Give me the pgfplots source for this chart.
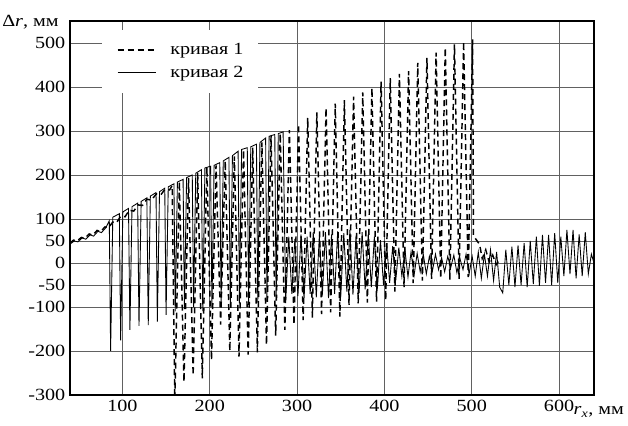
\documentclass[border=0pt]{standalone}
\usepackage{fontspec}
\setmainfont{Liberation Serif}[FakeStretch=1.18]
\usepackage{pgfplots}
\pgfplotsset{compat=1.18}

\begin{document}
\begin{tikzpicture}
\begin{axis}[
  scale only axis, width=393pt, height=280.5pt,
  xmin=40, xmax=640, ymin=-300, ymax=550,
  xtick={100,200,300,400,500,600},
  xticklabels={100,200,300,400,500,600},
  ytick={-300,-200,-100,-50,0,50,100,200,300,400,500},
  yticklabels={-300,-200,-100,-50,0,50,100,200,300,400,500},
  ticklabel style={font=\fontsize{12.8}{14}\selectfont},
  major tick length=0pt,
  grid=major, grid style={black!62, line width=0.65pt},
  axis line style={line width=1pt},
  legend style={at={(axis description cs:0.061,0.976)}, anchor=north west,
                draw=none, fill=white, font=\fontsize{12.8}{14}\selectfont,
                inner xsep=11pt, inner ysep=9pt, row sep=5pt,
                nodes={inner ysep=1pt, inner xsep=0pt},
                /tikz/every odd column/.append style={column sep=10pt}},
  legend cell align=left,
  legend image code/.code={\draw[#1] (0pt,0pt) -- (29pt,0pt);},
]
% curve 1 (dashed)
\addplot[black, line width=1.1pt, dash pattern=on 4.5pt off 3pt] coordinates {
(40,45)(44,52)(48,50)(53,58)(57,56)(62,66)(66,63)(71,74)(75,71)(80,82)(84,80)
(89,93)(93,91)(98,106)(103,105)(108,120)(113,118)(118,132)(123,131)(128,145)
(133,143)(139,157)(144,155)(149,168)(154,166)(157,176)
(160,-320)(165.2,185)(170.5,-270)(175.7,193)(181,-255)(186.2,204)(191.5,-262)(196.7,218)
(202,-220)(207.2,222)(212.5,-140)(217.7,232)(223,-200)(228.2,242)(233.5,-213)(238.7,257)
(244,-208)(249.2,262)(254.5,-203)(259.7,274)(265,-186)(270.2,288)(275.5,-165)(280.7,294)
(286,-152)(291.2,302)(296.5,-140)(301.7,315)(307,-130)(312.2,330)(317.5,-124)(322.7,342)
(328,-116)(333.2,352)(338.5,-112)(343.7,362)(349,-122)(354.2,370)(359.5,-95)(364.7,378)
(370,-92)(375.2,388)(380.5,-90)(385.7,398)(391,-88)(396.2,412)(401.5,-84)(406.7,420)
(412,-65)(417.2,430)(422.5,-55)(427.7,436)(433,-46)(438.2,455)(443.5,-40)(448.7,466)
(454,-36)(459.2,478)(464.5,-35)(469.7,489)(475,-38)(480.2,497)(485.5,-36)(490.7,503)
(496,-32)(501,508)(502,62)(509,42)(512,10)(516,30)(520,2)(524,18)(528,-4)(532,8)
};
\addlegendentry{кривая 1}
% curve 2 (solid)
\addplot[black, line width=0.65pt] coordinates {
(40,43)(45,50)(49,48)(54,57)(58,54)(63,64)(67,61)(72,72)(76,69)(81,80)(85,96)
(86.5,-200)(89,104)(96.5,112)(98,-176)(100.5,116)(107,124)(108.6,-152)(111,128)
(117.5,136)(119,-143)(121.5,140)(128,148)(129.6,-141)(132,152)(138.5,160)(140,-133)
(142.5,162)(148.5,170)(150,-118)(152.5,173)(159,180)(160.5,-110)(163,184)(169.5,190)
(171,-105)(173.5,194)(180,200)(181.5,-100)(184,204)(190.5,212)(192,-110)(194.5,216)
(201,220)(202.5,-100)(205,222)(211.5,228)(213,-95)(215.5,232)(222,240)(223.5,-100)
(226,244)(232.5,254)(234,-92)(236.5,258)(243,262)(244.5,-95)(247,264)(253.5,270)
(255,-90)(257.5,274)(264,284)(265.5,-88)(268,288)(274.5,292)(276,-85)(278.5,294)
(284,298)(287,-85)(290.5,60)(294,-70)(297.5,55)(301,-75)(304.5,65)(308,-80)(311.5,60)
(315,-70)(318.5,70)(322,-78)(325.5,62)(329,-72)(332.5,70)(336,-80)(339.5,65)(343,-70)
(346.5,72)(350,-76)(353.5,68)(357,-65)(360.5,75)(364,-72)(367.5,62)(371,-68)(374.5,70)
(378,-60)(381.5,66)(385,-55)(388.5,60)(392,-58)(395.5,52)(399,-50)(402.5,45)(406,-45)
(409.5,38)(413,-40)(416.5,35)(420,-30)(423.5,30)(427,-32)(430.5,25)(434,-28)(437.5,22)
(441,-20)(444.5,20)(448,-25)(451.5,15)(455,-18)(458.5,20)(462,-15)(465.5,12)(469,-20)
(472.5,15)(476,-10)(479.5,18)(483,-22)(486.5,10)(490,-15)(493.5,20)(497,-25)(500.5,15)
(504,-30)(507.5,25)(511,-35)(514.5,20)(518,-30)(521.5,30)(525,-40)(528.5,25)(532,-55)
(535.5,-68)(539,30)(542.5,-50)(546,37)(549.5,-55)(553,40)(556.5,-50)(560,45)(563.5,-55)
(567,50)(570.5,-48)(574,60)(577.5,-52)(581,64)(584.5,-45)(588,64)(591.5,-50)(595,68)
(598.5,-45)(602,60)(605.5,-30)(609,75)(612.5,-25)(616,75)(619.5,-35)(623,65)(626.5,-30)
(630,70)(633.5,-25)(637,20)(640,0)
};
\addlegendentry{кривая 2}
\end{axis}
\node[anchor=base east, font=\fontsize{12.8}{14}\selectfont]
  at ([xshift=-5pt, yshift=-4.5pt]current axis.north west) {Δ\textit{r}, мм};
\node[anchor=base west, font=\fontsize{12.8}{14}\selectfont, inner sep=0pt]
  at ([xshift=377.5pt, yshift=-15pt]current axis.south west) {\textit{r}\textsubscript{\textit{x}}, мм};
\pgfresetboundingbox
\path ([shift={(-52.5pt,-23.25pt)}]current axis.south west)
  rectangle ([shift={(25.5pt,15.75pt)}]current axis.north east);
\end{tikzpicture}
\end{document}
